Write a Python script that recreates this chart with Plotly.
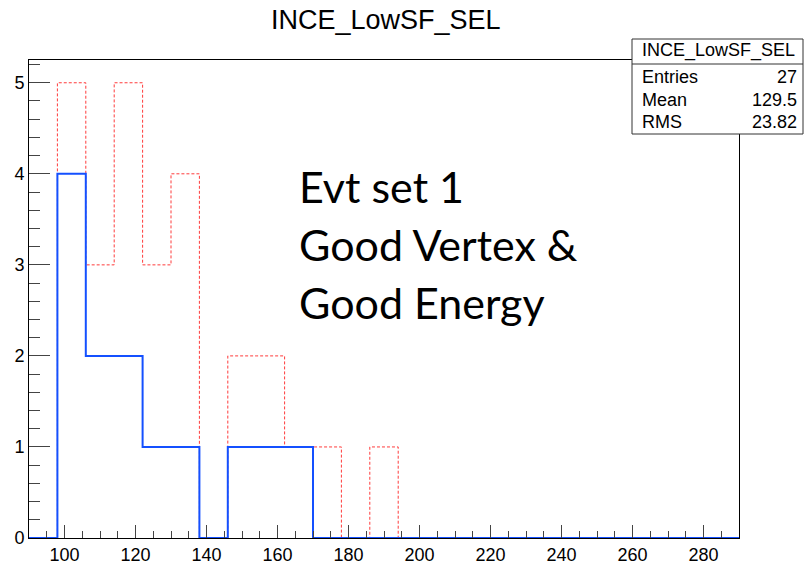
import numpy as np
import plotly.graph_objects as go

# ---- data ----
title_text = "INCE_LowSF_SEL"
bin_low = 90
bin_width = 8
n_bins = 25
# counts per bin (bins 90-98, 98-106, ... 282-290)
counts_all = [0, 5, 3, 5, 3, 4, 0, 2, 2, 1, 1, 0, 1, 0, 0, 0, 0, 0, 0, 0, 0, 0, 0, 0, 0]
counts_sel = [0, 4, 2, 2, 1, 1, 0, 1, 1, 1, 0, 0, 0, 0, 0, 0, 0, 0, 0, 0, 0, 0, 0, 0, 0]
stats_labels = ["Entries", "Mean", "RMS"]
stats_values = ["27", "129.5", "23.82"]
note_lines = ["Evt set 1", "Good Vertex &", "Good Energy"]
x_ticks = [100, 120, 140, 160, 180, 200, 220, 240, 260, 280]
y_ticks = [0, 1, 2, 3, 4, 5]

edges = bin_low + bin_width * np.arange(n_bins + 1)

W, H = 804, 564
L, R, T, B = 29, 739, 60, 538  # plot frame in pixels


def px(x):
    return (x - L) / (R - L)


def py(y):
    return (B - y) / (B - T)


fig = go.Figure()
fig.add_trace(go.Scatter(
    x=edges, y=list(counts_all) + [counts_all[-1]], mode="lines", line_shape="hv",
    line=dict(color="#ff3b3b", width=1, dash="3px,2px"), hoverinfo="skip", showlegend=False))
fig.add_trace(go.Scatter(
    x=edges, y=list(counts_sel) + [counts_sel[-1]], mode="lines", line_shape="hv",
    line=dict(color="#1450ff", width=2), hoverinfo="skip", showlegend=False))

tickfont = dict(family="Liberation Sans, Arial, sans-serif", size=18, color="black")
fig.update_xaxes(range=[90, 290], tickvals=x_ticks, ticks="inside", ticklen=13, tickcolor="#444",
                 tickwidth=1, showline=True, linecolor="black", linewidth=1, mirror=True,
                 showgrid=False, zeroline=False, tickfont=tickfont, automargin=False,
                 minor=dict(dtick=5, tick0=0, ticks="inside", ticklen=7, tickcolor="#444", showgrid=False))
fig.update_yaxes(range=[0, 5.25], tickvals=y_ticks, ticks="inside", ticklen=21, tickcolor="#444",
                 tickwidth=1, showline=True, linecolor="black", linewidth=1, mirror=True,
                 showgrid=False, zeroline=False, tickfont=tickfont, automargin=False,
                 minor=dict(dtick=0.2, tick0=0, ticks="inside", ticklen=11, tickcolor="#444", showgrid=False))

shapes = [
    dict(type="rect", xref="paper", yref="paper", x0=px(632), x1=px(803), y0=py(134), y1=py(39),
         line=dict(color="#333", width=1), fillcolor="white", layer="above"),
    dict(type="line", xref="paper", yref="paper", x0=px(632), x1=px(803), y0=py(64), y1=py(64),
         line=dict(color="#333", width=1), layer="above"),
]

sfont = dict(family="Liberation Sans, Arial, sans-serif", size=18, color="black")
annotations = [
    dict(text=title_text, xref="paper", yref="paper", x=px(386), y=py(20), showarrow=False,
         xanchor="center", yanchor="middle",
         font=dict(family="Liberation Sans, Arial, sans-serif", size=27, color="black")),
    dict(text=title_text, xref="paper", yref="paper", x=px(718), y=py(51), showarrow=False,
         xanchor="center", yanchor="middle", font=sfont),
]
row_y = [77, 100, 122]
for lab, val, yy in zip(stats_labels, stats_values, row_y):
    annotations.append(dict(text=lab, xref="paper", yref="paper", x=px(640), y=py(yy), showarrow=False,
                            xanchor="left", yanchor="middle", font=sfont))
    annotations.append(dict(text=val, xref="paper", yref="paper", x=px(799), y=py(yy), showarrow=False,
                            xanchor="right", yanchor="middle", font=sfont))

note_y = [186, 244, 302]
for line, yy in zip(note_lines, note_y):
    annotations.append(dict(text=line, xref="paper", yref="paper", x=px(297), y=py(yy), showarrow=False,
                            xanchor="left", yanchor="middle",
                            font=dict(family="Lato, Open Sans, sans-serif", size=43, color="black")))

fig.update_layout(
    width=W, height=H, margin=dict(l=L, r=W - R, t=T, b=H - B, pad=0),
    paper_bgcolor="white", plot_bgcolor="white", showlegend=False,
    shapes=shapes, annotations=annotations,
)

fig.write_html("out.html", config={"displayModeBar": False},
               post_script="document.body.style.margin='0px';")
